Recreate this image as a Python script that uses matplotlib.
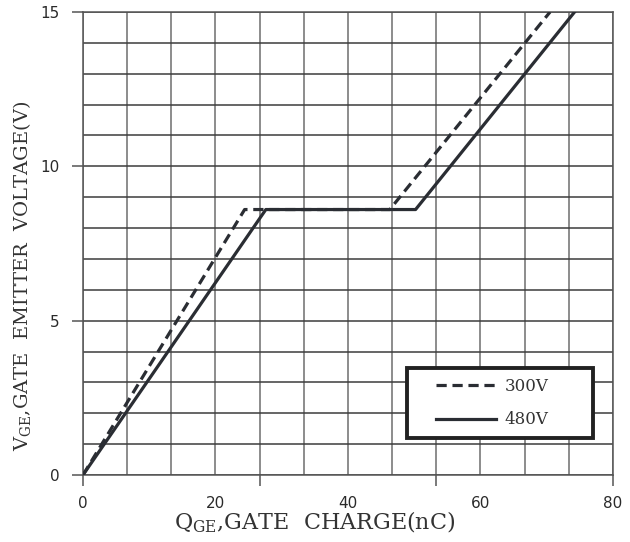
import numpy as np
import matplotlib.pyplot as plt
from matplotlib.patches import Rectangle

# gate charge curves
q_300 = [0, 24.4, 46.3, 70.5]
v_300 = [0, 8.6, 8.6, 15]
q_480 = [0, 27.6, 50.2, 74.2]
v_480 = [0, 8.6, 8.6, 15]

x_labels = [0, 20, 40, 60, 80]
y_labels = [0, 5, 10, 15]

line_col = '#2a2d33'
plt.rcParams['mathtext.fontset'] = 'dejavuserif'

fig = plt.figure(figsize=(6.3, 5.42), dpi=100)
ax = fig.add_axes([0.1317, 0.1236, 0.8413, 0.8543])
ax.set_xlim(0, 80)
ax.set_ylim(0, 15)

# grid: 12 columns, 15 rows
for gx in np.linspace(0, 80, 13):
    ax.axvline(gx, color='#6e6e6e', lw=1.1, zorder=1)
for gy in range(16):
    ax.axhline(gy, color='#3c3c3c', lw=1.1, zorder=1)

ax.plot(q_300, v_300, color=line_col, lw=2.3, ls=(0, (3.2, 1.8)), label='300V', zorder=3)
ax.plot(q_480, v_480, color=line_col, lw=2.3, label='480V', zorder=3)

for s in ax.spines.values():
    s.set_color('#555555')
    s.set_linewidth(1.1)

# long ticks fall on thirds, labels on the 20s
ax.xaxis.remove_overlapping_locs = False
ax.set_xticks([0, 80 / 3, 160 / 3, 80])
ax.set_xticklabels([])
ax.tick_params(axis='x', which='major', length=8, width=1.1, color='#555555')
ax.set_xticks(x_labels, minor=True)
ax.set_xticklabels([str(v) for v in x_labels], minor=True, fontsize=11,
                   family='DejaVu Sans', color='#2a2a2a')
ax.tick_params(axis='x', which='minor', length=0, pad=15)

ax.set_yticks(y_labels)
ax.set_yticklabels([str(v) for v in y_labels], fontsize=11,
                   family='DejaVu Sans', color='#2a2a2a')
ax.tick_params(axis='y', length=8, width=1.1, color='#555555', pad=9)

ax.set_xlabel(r'Q$_{\mathrm{GE}}$,GATE  CHARGE(nC)', family='DejaVu Serif',
              fontsize=16, color='#333333')
ax.xaxis.set_label_coords(0.438, -0.075)
ax.set_ylabel(r'V$_{\mathrm{GE}}$,GATE  EMITTER  VOLTAGE(V)', family='DejaVu Serif',
              fontsize=14, color='#333333')
ax.yaxis.set_label_coords(-0.095, 0.43)

# legend box drawn separately so the padding can be uneven like the original
ax.add_patch(Rectangle((0.611, 0.081), 0.351, 0.151, transform=ax.transAxes,
                       facecolor='white', edgecolor='#222222', lw=2.8, zorder=4))
leg = ax.legend(loc='center left', bbox_to_anchor=(0.6655, 0.1555), borderaxespad=0,
                frameon=False, prop={'family': 'DejaVu Serif', 'size': 12},
                handlelength=3.6, handletextpad=0.55, labelspacing=1.0,
                borderpad=0)
leg.set_zorder(5)
for t in leg.get_texts():
    t.set_color('#333333')

fig.savefig('out.png', dpi=100)
